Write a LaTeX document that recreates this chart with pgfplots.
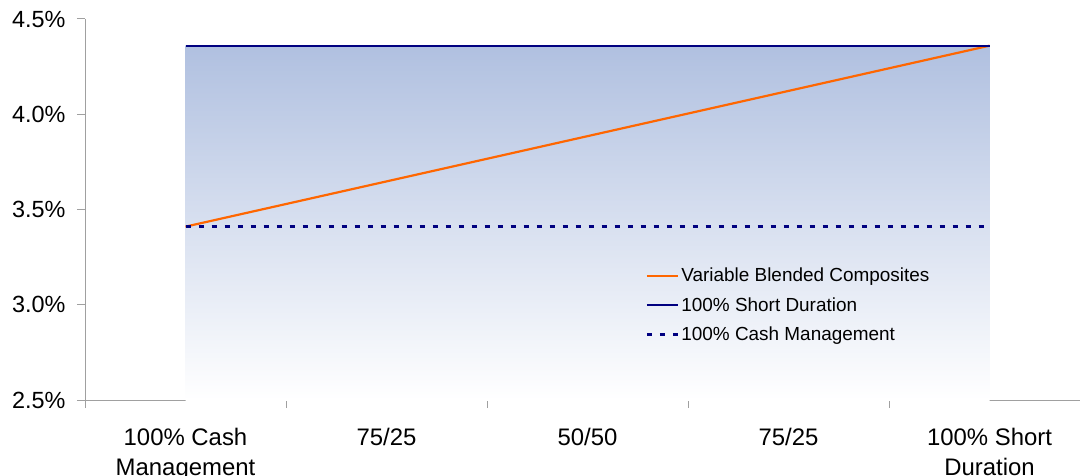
\documentclass[border=0pt]{standalone}
\usepackage{fontspec}
\setmainfont{Liberation Sans}
\usepackage{pgfplots}
\pgfplotsset{compat=1.18}
\usetikzlibrary{calc}
\definecolor{navyline}{RGB}{0,0,128}
\definecolor{orangeline}{RGB}{255,102,0}
\definecolor{axisgray}{RGB}{160,160,160}
\definecolor{shadetop}{RGB}{176,192,224}
\begin{document}
\begin{tikzpicture}
\begin{axis}[
  name=ax,
  scale only axis,
  width=995bp, height=381bp,
  xmin=-0.5, xmax=4.45,
  ymin=2.5, ymax=4.5,
  axis x line*=bottom, axis y line*=left,
  axis line style={axisgray, line width=1pt, -},
  ytick={2.5,3.0,3.5,4.0,4.5},
  yticklabel={\pgfmathprintnumber[fixed,fixed zerofill,precision=1]{\tick}\%},
  /pgf/number format/assume math mode=true,
  tick align=outside,
  major tick length=8bp,
  tick style={axisgray, line width=1pt},
  y tick label style={font=\fontsize{23.5}{27}\selectfont, xshift=-8bp},
  xtick={-0.5,0.5,1.5,2.5,3.5},
  xticklabels={},
  extra x ticks={0,1,2,3,4},
  extra x tick labels={{100\% Cash\\Management},{75/25},{50/50},{75/25},{100\% Short\\Duration}},
  extra x tick style={major tick length=0pt, tick style={draw=none},
     tick label style={font=\fontsize{24}{30}\selectfont, align=center, yshift=-25bp}},
  legend style={draw=none, fill=none, at={(rel axis cs:0.561,0.357)}, anchor=north west,
     font=\fontsize{19}{22}\selectfont, row sep=10bp, inner sep=2bp},
  legend cell align=left,
  legend image code/.code={\draw[#1] (0bp,0bp) -- (31bp,0bp);},
  clip=false,
]
\addplot[draw=none, top color=shadetop, bottom color=white, forget plot]
  coordinates {(0,4.36) (4,4.36)} \closedcycle;
\addplot[orangeline, line width=2.2pt] coordinates {(0,3.41) (4,4.36)};
\addlegendentry{Variable Blended Composites}
\addplot[navyline, line width=2pt] coordinates {(0,4.36) (4,4.36)};
\addlegendentry{100\% Short Duration}
\addplot[navyline, line width=3pt, dash pattern=on 5bp off 8bp] coordinates {(0,3.41) (4,3.41)};
\addlegendentry{100\% Cash Management}
\end{axis}
\pgfresetboundingbox
\path[use as bounding box] ($(ax.south west)+(-85bp,-76bp)$) rectangle ($(ax.north east)+(0,19bp)$);
\end{tikzpicture}
\end{document}
